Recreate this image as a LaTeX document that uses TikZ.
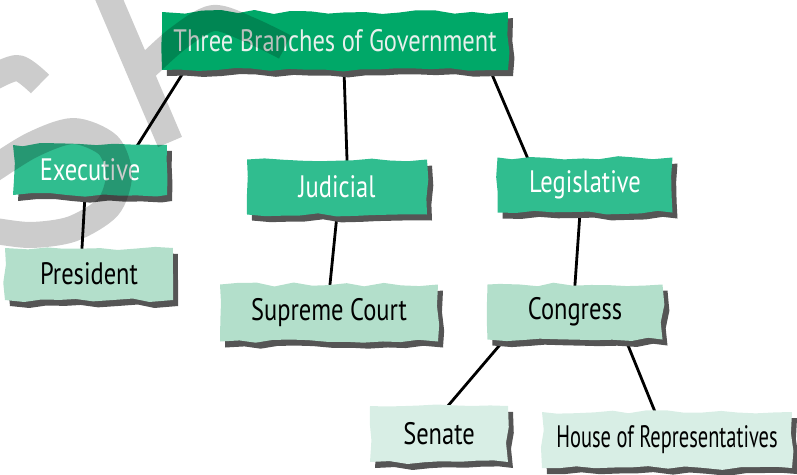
\documentclass[tikz,border=0pt]{standalone}
\usepackage{fontspec}
\setmainfont[FakeStretch=0.79]{PT Sans}
\newfontfamily\narrowfont[FakeStretch=0.66]{PT Sans}
\usetikzlibrary{decorations.pathmorphing,calc}
\pgfdeclarelayer{bg}
\pgfdeclarelayer{fg}
\pgfsetlayers{bg,main,fg}
\definecolor{topc}{RGB}{0,168,104}
\definecolor{midc}{RGB}{48,189,143}
\definecolor{lowc}{RGB}{179,223,203}
\definecolor{leafc}{RGB}{216,238,229}
\definecolor{shadc}{RGB}{85,85,85}
\definecolor{toptext}{RGB}{232,240,236}
\tikzset{
  box/.style={inner sep=0pt, font=\fontsize{31}{34}\selectfont,
    decorate, decoration={random steps, segment length=18pt, amplitude=2pt},
    preaction={fill=shadc, transform canvas={shift={(5pt,-6pt)}}}},
  lvl0/.style={box, fill=topc, text=toptext},
  lvl1/.style={box, fill=midc, text=white},
  lvl2/.style={box, fill=lowc, text=black},
  lvl3/.style={box, fill=leafc, text=black},
  link/.style={line width=2.8pt, black, shorten <=-5pt, shorten >=-5pt},
  wmark/.style={draw=black, draw opacity=0.2, line width=26pt, line join=round, line cap=butt}
}
\pgfmathsetseed{7}
\begin{document}
\begin{tikzpicture}[x=1pt,y=-1pt]
\useasboundingbox (0,0) rectangle (797,474);
\node[lvl0, minimum width=346pt, minimum height=58pt] (top) at (335,41) {Three Branches of Government};
\node[lvl1, minimum width=154pt, minimum height=50pt] (exec) at (90,170) {Executive};
\node[lvl1, minimum width=180pt, minimum height=55pt] (jud) at (337,187) {Judicial};
\node[lvl1, minimum width=175pt, minimum height=55pt] (leg) at (585,185) {Legislative};
\node[lvl2, minimum width=168pt, minimum height=52pt] (pres) at (89,274) {President};
\node[lvl2, minimum width=218pt, minimum height=57pt] (sup) at (329,313) {Supreme Court};
\node[lvl2, minimum width=175pt, minimum height=55pt] (cong) at (575,312) {Congress};
\node[lvl3, minimum width=138pt, minimum height=56pt] (sen) at (439,434) {Senate};
\node[lvl3, minimum width=250pt, minimum height=56pt, font=\narrowfont\fontsize{31}{34}\selectfont] (house) at (667,440) {House of Representatives};
\begin{pgfonlayer}{bg}
\draw[link] ($(top.south west)+(23,0)$) -- ($(exec.north west)+(125,0)$);
\draw[link] ($(top.south)+(9,0)$) -- ($(jud.north)+(10,0)$);
\draw[link] ($(top.south east)+(-18,0)$) -- ($(leg.north west)+(30,0)$);
\draw[link] ($(exec.south)+(-5,0)$) -- ($(pres.north)+(-7,0)$);
\draw[link] (jud.south) -- ($(sup.north)+(1,0)$);
\draw[link] ($(leg.south)+(-5,0)$) -- (cong.north);
\draw[link] ($(cong.south west)+(17,0)$) -- ($(sen.north)+(9,0)$);
\draw[link] ($(cong.south east)+(-37,0)$) -- ($(house.north)+(-12,0)$);
\end{pgfonlayer}
\begin{pgfonlayer}{fg}
% watermark fragment
\path[wmark]
  plot[smooth] coordinates {(-8,78) (18,68) (40,84)}
  plot[smooth] coordinates {(-20,178) (30,146) (73,131) (108,145) (119,175) (108,207) (72,229) (30,235) (-10,230)}
  (103,-15) -- (170,142)
  plot[smooth] coordinates {(139,74) (176,40) (213,18) (250,30) (285,47)};
\end{pgfonlayer}
\end{tikzpicture}
\end{document}
